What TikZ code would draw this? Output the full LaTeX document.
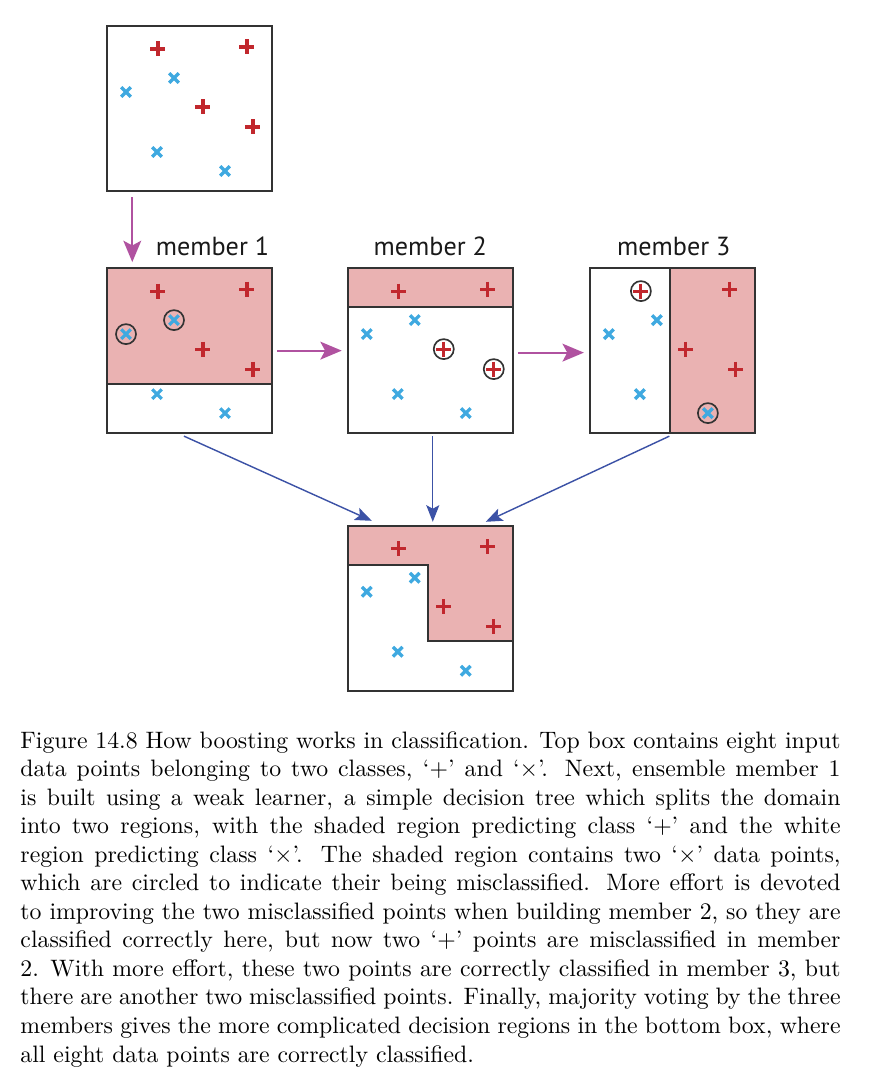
\documentclass[tikz,border=0pt]{standalone}
\usepackage{fontspec}
\newfontfamily\labelfont{PT Sans}
\usetikzlibrary{positioning, arrows.meta, backgrounds}

\definecolor{regionpink}{RGB}{234,178,178}
\definecolor{plusred}{RGB}{193,39,45}
\definecolor{crossblue}{RGB}{63,169,224}
\definecolor{flowpurple}{RGB}{176,82,160}
\definecolor{voteblue}{RGB}{60,82,166}
\definecolor{boxgray}{RGB}{51,51,51}

\newcommand{\boxside}{2.44cm}

% the eight data points, placed from the north west corner of a box
\newcommand{\datapoints}[1]{%
  \begin{scope}[shift={(#1.north west)}]
    \foreach \px/\py in {51/23, 140/21, 96/81, 146/101}
      \pic at (\px,\py) {plusmark};
    \foreach \px/\py in {67/52, 19/66, 50/126, 118/145}
      \pic at (\px,\py) {crossmark};
  \end{scope}}

\tikzset{
  plusmark/.pic={\draw[plusred, line width=1.3pt] (-7.5,0) -- (7.5,0) (0,-7.5) -- (0,7.5);},
  crossmark/.pic={\draw[crossblue, line width=1.4pt] (-4.8,-4.8) -- (4.8,4.8) (-4.8,4.8) -- (4.8,-4.8);}
}

\begin{document}
\begin{tikzpicture}[
    x=0.01478cm, y=-0.01478cm,
    databox/.style={draw=boxgray, line width=0.8pt, rectangle, inner sep=0pt, outer sep=0pt, minimum width=\boxside, minimum height=\boxside},
    memberlabel/.style={font=\labelfont\fontsize{11}{13}\selectfont, text=black!90, inner sep=0pt, anchor=south},
    region/.style={fill=regionpink},
    split/.style={draw=boxgray, line width=0.8pt},
    ring/.style={draw=boxgray, line width=0.7pt},
    flow/.style={-{Stealth[length=9pt, width=7.5pt, inset=2pt]}, line width=0.9pt, flowpurple},
    vote/.style={-{Stealth[length=7pt, width=5.5pt, inset=1.5pt]}, line width=0.6pt, voteblue},
    caption/.style={text width=345pt, align=justify, inner sep=0pt, anchor=north west}
  ]

  \useasboundingbox (0,0) rectangle (888,1092);

  \node[databox] (input) at (189.5,108.5) {};
  \node[databox, below=1.14cm of input] (m1) {};
  \node[databox, right=1.12cm of m1] (m2) {};
  \node[databox, right=1.14cm of m2] (m3) {};
  \node[databox, below=1.37cm of m2] (vote) {};

  \node[memberlabel, above=0.177cm of m1, xshift=0.34cm] (lab1) {member 1};
  \node[memberlabel, above=0.177cm of m2] (lab2) {member 2};
  \node[memberlabel, above=0.177cm of m3, xshift=0.02cm] (lab3) {member 3};

  % shaded regions predicting '+'
  \begin{scope}[on background layer]
    \begin{scope}[shift={(m1.north west)}]
      \fill[region] (0,0) rectangle (165,116);
      \draw[split] (0,116) -- (165,116);
    \end{scope}
    \begin{scope}[shift={(m2.north west)}]
      \fill[region] (0,0) rectangle (165,39);
      \draw[split] (0,39) -- (165,39);
    \end{scope}
    \begin{scope}[shift={(m3.north west)}]
      \fill[region] (80,0) rectangle (165,165);
      \draw[split] (80,0) -- (80,165);
    \end{scope}
    \begin{scope}[shift={(vote.north west)}]
      \fill[region] (0,0) -- (165,0) -- (165,115) -- (80,115) -- (80,39) -- (0,39) -- cycle;
      \draw[split] (0,39) -- (80,39) -- (80,115) -- (165,115);
    \end{scope}
  \end{scope}

  \datapoints{input}
  \datapoints{m1}
  \datapoints{m2}
  \datapoints{m3}
  \datapoints{vote}

  % misclassified points
  \begin{scope}[shift={(m1.north west)}]
    \draw[ring] (67,52) circle[radius=0.148cm] (19,66) circle[radius=0.148cm];
  \end{scope}
  \begin{scope}[shift={(m2.north west)}]
    \draw[ring] (96,81) circle[radius=0.148cm] (146,101) circle[radius=0.148cm];
  \end{scope}
  \begin{scope}[shift={(m3.north west)}]
    \draw[ring] (51,23) circle[radius=0.148cm] (118,145) circle[radius=0.148cm];
  \end{scope}

  \draw[flow] ([shift={(25.3,6)}]input.south west) -- ([shift={(25.3,-6)}]m1.north west);
  \draw[flow] ([shift={(5,0)}]m1.east) -- ([shift={(-6,0)}]m2.west);
  \draw[flow] ([shift={(5,2)}]m2.east) -- ([shift={(-6,2)}]m3.west);

  \draw[vote] ([shift={(77,3)}]m1.south west) -- ([shift={(24,-5)}]vote.north west);
  \draw[vote] ([shift={(2.5,3)}]m2.south) -- ([shift={(2.5,-4)}]vote.north);
  \draw[vote] ([shift={(79.5,3)}]m3.south west) -- ([shift={(138,-4)}]vote.north west);

  \node[caption] (cap) at (20,731) {Figure 14.8 How boosting works in classification. Top box contains eight input data points belonging to two classes, ‘+’ and ‘$\times$’. Next, ensemble member 1 is built using a weak learner, a simple decision tree which splits the domain into two regions, with the shaded region predicting class ‘+’ and the white region predicting class ‘$\times$’. The shaded region contains two ‘$\times$’ data points, which are circled to indicate their being misclassified. More effort is devoted to improving the two misclassified points when building member 2, so they are classified correctly here, but now two ‘+’ points are misclassified in member 2. With more effort, these two points are correctly classified in member 3, but there are another two misclassified points. Finally, majority voting by the three members gives the more complicated decision regions in the bottom box, where all eight data points are correctly classified.};

\end{tikzpicture}
\end{document}
